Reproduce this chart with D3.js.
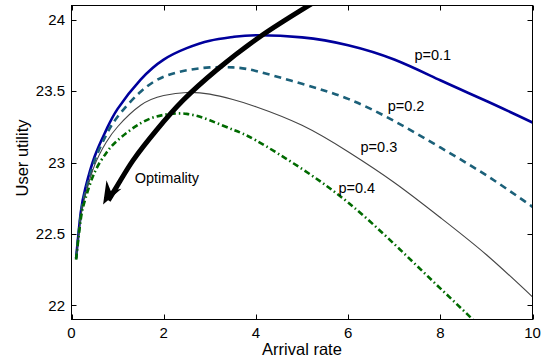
<!DOCTYPE html>
<html>
<head>
<meta charset="utf-8">
<script src="https://cdn.jsdelivr.net/npm/d3@7/dist/d3.min.js"></script>
<style>
  body { margin: 0; background: #fff; }
  svg { display: block; font-family: "Liberation Sans", Arial, sans-serif; }
  .tick-label { font-size: 15px; fill: #000; }
  .axis-label { font-size: 16.5px; fill: #000; }
  .note { font-size: 14.5px; fill: #000; }
</style>
</head>
<body>
<svg width="551" height="362"></svg>
<script>
// arrival rate samples
const rates = [0.1, 0.2, 0.3, 0.5, 0.75, 1, 1.5, 2, 2.5, 3, 3.5, 4, 5, 6, 7, 8, 9, 10];

// user utility for each p
const utilP1 = [22.33, 22.65, 22.82, 23.04, 23.225, 23.375, 23.58, 23.72, 23.80, 23.852, 23.878, 23.89, 23.875, 23.82, 23.72, 23.575, 23.43, 23.28];
const utilP2 = [22.33, 22.63, 22.79, 23.01, 23.19, 23.32, 23.495, 23.60, 23.645, 23.665, 23.665, 23.64, 23.55, 23.445, 23.29, 23.105, 22.91, 22.69];
const utilP3 = [22.33, 22.62, 22.775, 22.98, 23.14, 23.25, 23.40, 23.468, 23.49, 23.478, 23.44, 23.39, 23.26, 23.075, 22.86, 22.615, 22.355, 22.06];
const utilP4 = [22.32, 22.60, 22.745, 22.93, 23.065, 23.155, 23.275, 23.333, 23.34, 23.295, 23.23, 23.155, 22.955, 22.72, 22.43, 22.12, 21.81, 21.49];

const seriesNames = ['p=0.1', 'p=0.2', 'p=0.3', 'p=0.4'];

const xTicks = [0, 2, 4, 6, 8, 10];
const yTicks = [22, 22.5, 23, 23.5, 24];

// label anchors, in data units
const labelX = [7.44, 6.86, 6.27, 5.79];
const labelY = [23.715, 23.358, 23.071, 22.784];

// optimality arrow, in data units
const arrowX = [5.36, 4.08, 3.14, 2.42, 1.84, 1.335, 0.975, 0.80];
const arrowY = [24.14, 23.878, 23.645, 23.435, 23.225, 23.015, 22.828, 22.735];
const headX = [0.685, 0.759, 0.852, 1.084];
const headY = [22.707, 22.875, 22.80, 22.817];

const svg = d3.select('svg');
const m = { left: 71.5, top: 5.5, right: 532.5, bottom: 319.5 };

const x = d3.scaleLinear().domain([0, 10]).range([m.left, m.right]);
const y = d3.scaleLinear().domain([21.902, 24.098]).range([m.bottom, m.top]);

svg.append('clipPath').attr('id', 'plot')
  .append('rect')
  .attr('x', m.left).attr('y', m.top)
  .attr('width', m.right - m.left).attr('height', m.bottom - m.top);

const styles = [
  { color: '#00009c', width: 2.6, dash: null },
  { color: '#1b6079', width: 2.6, dash: '7,5' },
  { color: '#454545', width: 1.1, dash: null },
  { color: '#006a00', width: 2.6, dash: '6,3,1.5,3' }
];

const line = d3.line()
  .x(d => x(d[0]))
  .y(d => y(d[1]))
  .curve(d3.curveNatural);

const arrowLine = d3.line()
  .x(d => x(d[0]))
  .y(d => y(d[1]))
  .curve(d3.curveCatmullRom.alpha(0.5));

const g = svg.append('g').attr('clip-path', 'url(#plot)');

[utilP1, utilP2, utilP3, utilP4].forEach((vals, i) => {
  const pts = rates.map((r, j) => [r, vals[j]]);
  g.append('path')
    .attr('d', line(pts))
    .attr('fill', 'none')
    .attr('stroke', styles[i].color)
    .attr('stroke-width', styles[i].width)
    .attr('stroke-dasharray', styles[i].dash);
});

// arrow
g.append('path')
  .attr('d', arrowLine(arrowX.map((v, i) => [v, arrowY[i]])))
  .attr('fill', 'none')
  .attr('stroke', '#000')
  .attr('stroke-width', 5);
g.append('path')
  .attr('d', 'M' + headX.map((v, i) => x(v) + ',' + y(headY[i])).join('L') + 'Z')
  .attr('fill', '#000');

// labels
seriesNames.forEach((name, i) => {
  svg.append('text')
    .attr('class', 'note')
    .attr('x', x(labelX[i]))
    .attr('y', y(labelY[i]))
    .text(name);
});
svg.append('text')
  .attr('class', 'note')
  .attr('x', x(1.37))
  .attr('y', y(22.854))
  .text('Optimality');

// frame and ticks (matlab style, inward, on all sides)
svg.append('rect')
  .attr('x', m.left).attr('y', m.top)
  .attr('width', m.right - m.left).attr('height', m.bottom - m.top)
  .attr('fill', 'none').attr('stroke', '#000').attr('stroke-width', 1);

const tl = 5;
xTicks.forEach(t => {
  const px = Math.round(x(t)) + 0.5;
  svg.append('line').attr('x1', px).attr('x2', px)
    .attr('y1', m.bottom).attr('y2', m.bottom - tl).attr('stroke', '#000');
  svg.append('line').attr('x1', px).attr('x2', px)
    .attr('y1', m.top).attr('y2', m.top + tl).attr('stroke', '#000');
  svg.append('text').attr('class', 'tick-label')
    .attr('x', x(t)).attr('y', 338)
    .attr('text-anchor', 'middle')
    .text(t);
});
yTicks.forEach(t => {
  const py = Math.round(y(t)) + 0.5;
  svg.append('line').attr('x1', m.left).attr('x2', m.left + tl)
    .attr('y1', py).attr('y2', py).attr('stroke', '#000');
  svg.append('line').attr('x1', m.right).attr('x2', m.right - tl)
    .attr('y1', py).attr('y2', py).attr('stroke', '#000');
  svg.append('text').attr('class', 'tick-label')
    .attr('x', 65).attr('y', y(t))
    .attr('dy', '0.36em')
    .attr('text-anchor', 'end')
    .text(d3.format('.3~f')(t));
});

svg.append('text').attr('class', 'axis-label')
  .attr('x', (m.left + m.right) / 2).attr('y', 355)
  .attr('text-anchor', 'middle')
  .text('Arrival rate');
svg.append('text').attr('class', 'axis-label')
  .attr('transform', 'translate(28,158) rotate(-90)')
  .attr('text-anchor', 'middle')
  .text('User utility');
</script>
</body>
</html>
